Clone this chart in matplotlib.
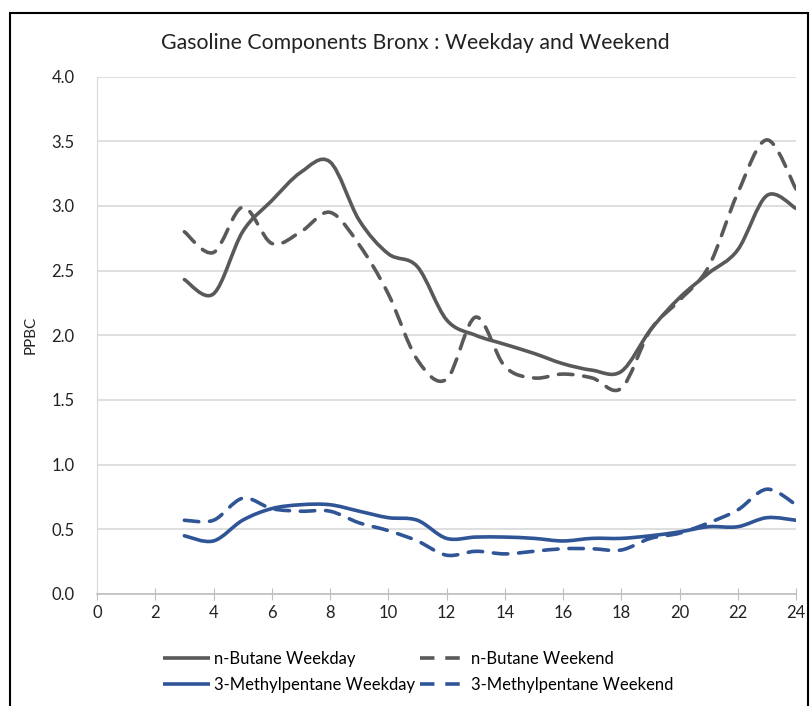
import numpy as np
import matplotlib
matplotlib.use("Agg")
import matplotlib.pyplot as plt
from matplotlib.path import Path
from matplotlib.patches import PathPatch, Rectangle
from matplotlib.lines import Line2D

plt.rcParams['font.family'] = ['Lato', 'DejaVu Sans']

hours = [3, 4, 5, 6, 7, 8, 9, 10, 11, 12, 13, 14, 15, 16, 17, 18, 19, 20, 21, 22, 23, 24]
butane_weekday = [2.43, 2.32, 2.80, 3.04, 3.26, 3.34, 2.89, 2.63, 2.53, 2.12, 2.00, 1.93,
                  1.86, 1.78, 1.73, 1.72, 2.04, 2.29, 2.48, 2.66, 3.08, 2.98]
butane_weekend = [2.80, 2.64, 2.99, 2.71, 2.80, 2.95, 2.70, 2.32, 1.81, 1.66, 2.14, 1.76,
                  1.67, 1.70, 1.67, 1.59, 2.04, 2.27, 2.53, 3.10, 3.51, 3.13]
mp_weekday = [0.45, 0.41, 0.57, 0.66, 0.69, 0.69, 0.64, 0.59, 0.57, 0.43, 0.44, 0.44,
              0.43, 0.41, 0.43, 0.43, 0.45, 0.48, 0.52, 0.52, 0.59, 0.57]
mp_weekend = [0.57, 0.57, 0.74, 0.66, 0.64, 0.64, 0.55, 0.49, 0.41, 0.30, 0.33, 0.31,
              0.33, 0.35, 0.35, 0.34, 0.43, 0.47, 0.55, 0.65, 0.81, 0.69]

series_names = ["n-Butane Weekday", "n-Butane Weekend",
                "3-Methylpentane Weekday", "3-Methylpentane Weekend"]

GRAY = "#595959"
BLUE = "#2F5597"


def smooth_path(xs, ys):
    """Excel-like smoothed line as cubic Bezier path (Catmull-Rom control points)."""
    p = np.column_stack([xs, ys]).astype(float)
    n = len(p)
    verts = [p[0]]
    codes = [Path.MOVETO]
    for i in range(n - 1):
        p0 = p[i - 1] if i > 0 else p[i]
        p1 = p[i]
        p2 = p[i + 1]
        p3 = p[i + 2] if i + 2 < n else p[i + 1]
        c1 = p1 + (p2 - p0) / 6.0
        c2 = p2 - (p3 - p1) / 6.0
        verts += [c1, c2, p2]
        codes += [Path.CURVE4] * 3
    return Path(verts, codes)


fig = plt.figure(figsize=(8.10, 7.06), dpi=100)
ax = fig.add_axes([97 / 810, 1 - 594 / 706, (796 - 97) / 810, (594 - 76.5) / 706])

styles = [
    (butane_weekday, GRAY, (0, ())),
    (butane_weekend, GRAY, (0, (4, 3))),
    (mp_weekday, BLUE, (0, ())),
    (mp_weekend, BLUE, (0, (4, 3))),
]
handles = []
for (vals, col, ls), name in zip(styles, series_names):
    patch = PathPatch(smooth_path(hours, vals), fill=False, edgecolor=col,
                      linewidth=2.6, linestyle=ls, capstyle='round', zorder=3)
    ax.add_patch(patch)
    handles.append(Line2D([], [], color=col, linewidth=2.6, linestyle=ls, label=name))

ax.set_xlim(0, 24)
ax.set_ylim(0, 4.0)
ax.set_xticks(np.arange(0, 25, 2))
ax.set_yticks(np.arange(0, 4.01, 0.5))
ax.set_yticklabels([f"{v:.1f}" for v in np.arange(0, 4.01, 0.5)])
ax.grid(axis='y', color='#D9D9D9', linewidth=1.2)
ax.set_axisbelow(True)
for s in ['top', 'right']:
    ax.spines[s].set_visible(False)
ax.spines['left'].set_color('#D9D9D9')
ax.spines['bottom'].set_color('#BFBFBF')
ax.spines['bottom'].set_linewidth(1.2)
ax.tick_params(axis='y', length=0, labelsize=12, colors='#222222', pad=16)
ax.tick_params(axis='x', direction='inout', length=8, color='#BFBFBF',
               labelsize=12, labelcolor='#222222', pad=4)
ax.set_ylabel("PPBC", fontsize=11, color='#222222', labelpad=10)

fig.text(0.513, 1 - 43 / 706, "Gasoline Components Bronx : Weekday and Weekend",
         ha='center', va='center', fontsize=15.3, color='#222222')

# row-major legend order: matplotlib fills columns first
legend_order = [handles[0], handles[2], handles[1], handles[3]]
fig.legend(handles=legend_order, loc='center', bbox_to_anchor=(0.516, 1 - 672 / 706),
           ncol=2, frameon=False, fontsize=12, handlelength=2.8, handletextpad=0.25,
           columnspacing=0.3, labelspacing=0.6)

fig.patches.append(Rectangle((10 / 810, -0.05), 798 / 810, 1.05 - 13 / 706,
                             transform=fig.transFigure, fill=False,
                             edgecolor='black', linewidth=1.5))

fig.savefig("out.png", dpi=100)
